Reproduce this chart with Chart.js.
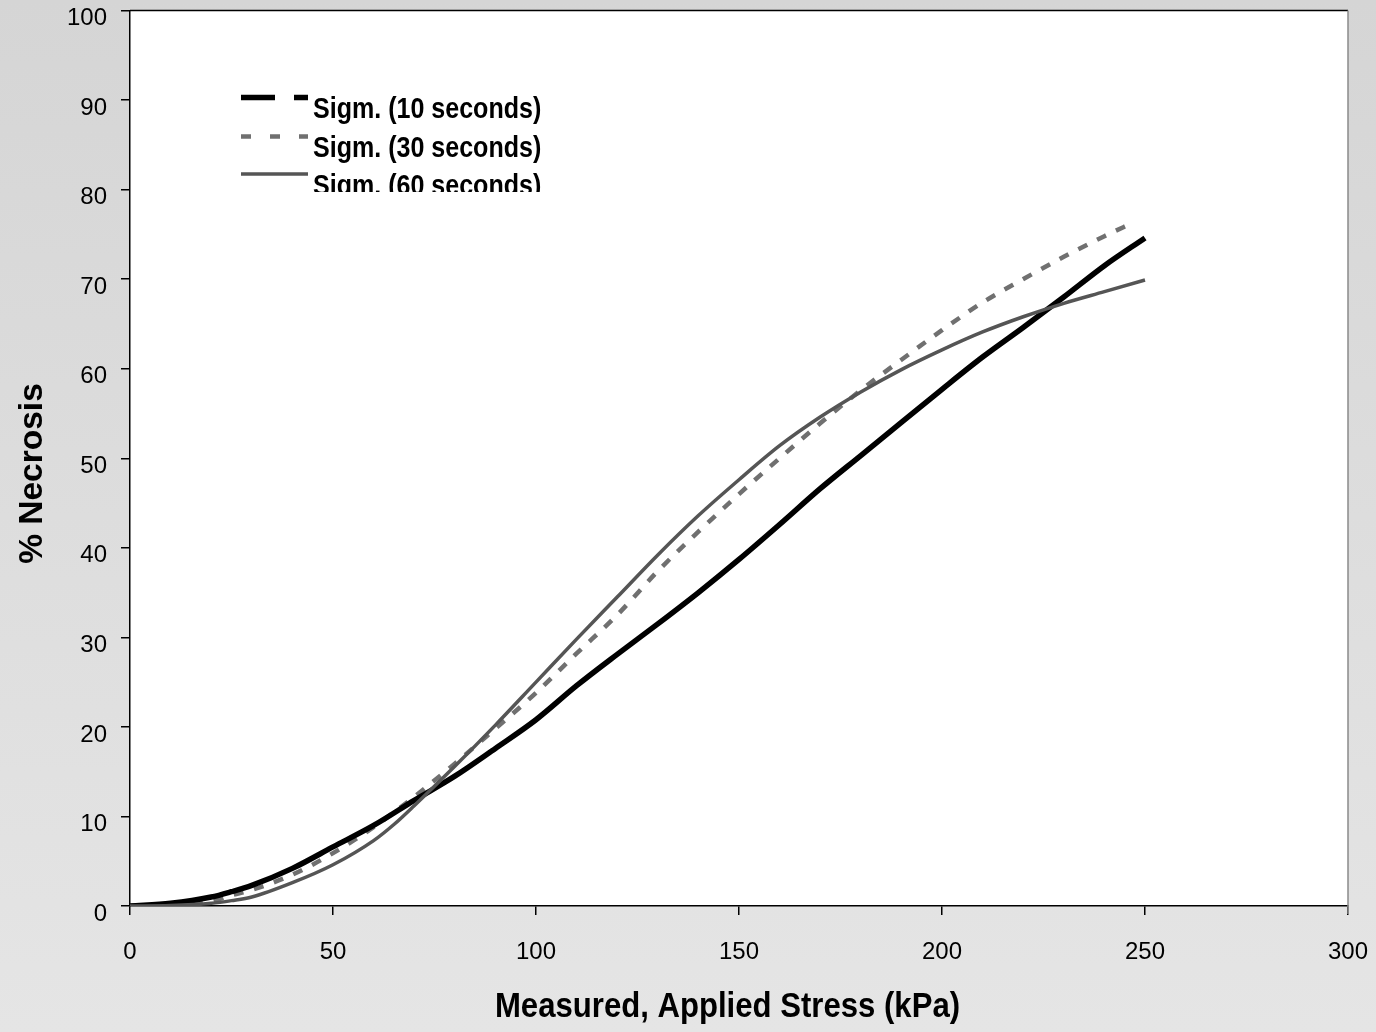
<!DOCTYPE html>
<html>
<head>
<meta charset="utf-8">
<script src="https://cdn.jsdelivr.net/npm/chart.js@4.4.0/dist/chart.umd.min.js"></script>
<style>
  html, body { margin: 0; padding: 0; }
  body { width: 1376px; height: 1032px; background: linear-gradient(#d5d5d5, #e5e5e5); overflow: hidden; }
  canvas { display: block; }
</style>
</head>
<body>
<canvas id="c" width="1376" height="1032"></canvas>
<script>
// ---- data ----
const xTicks = [0, 50, 100, 150, 200, 250, 300];
const yTicks = [0, 10, 20, 30, 40, 50, 60, 70, 80, 90, 100];

const stress10 = [0, 10, 20, 25, 30, 40, 50, 60, 70, 80, 90, 100, 110, 120, 130, 140, 150, 160, 170, 180, 190, 200, 210, 220, 230, 240, 250];
const necrosis10 = [0, 0.3, 1.0, 1.6, 2.3, 4.2, 6.6, 9.0, 11.8, 14.5, 17.6, 20.8, 24.6, 28.1, 31.5, 35.0, 38.7, 42.6, 46.6, 50.3, 54.0, 57.7, 61.3, 64.6, 68.0, 71.5, 74.6];

const stress30 = [0, 10, 20, 25, 30, 40, 50, 60, 70, 80, 90, 100, 110, 120, 130, 140, 150, 160, 170, 180, 190, 200, 210, 220, 230, 240, 247];
const necrosis30 = [0, 0.1, 0.5, 1.2, 1.8, 3.5, 5.9, 8.8, 12.2, 15.9, 19.8, 23.8, 28.2, 32.5, 37.4, 41.8, 46.0, 50.0, 53.9, 57.6, 61.0, 64.3, 67.4, 70.0, 72.5, 74.8, 76.3];

const stress60 = [0, 10, 20, 25, 30, 40, 50, 60, 65, 70, 80, 90, 100, 110, 120, 130, 140, 150, 160, 170, 180, 190, 200, 210, 220, 230, 240, 250];
const necrosis60 = [0, 0.05, 0.3, 0.6, 1.0, 2.6, 4.6, 7.3, 9.1, 11.2, 15.6, 20.2, 25.0, 29.8, 34.5, 39.2, 43.6, 47.6, 51.4, 54.6, 57.4, 59.9, 62.1, 64.1, 65.8, 67.3, 68.6, 69.9];

const seriesNames = ['Sigm. (10 seconds)', 'Sigm. (30 seconds)', 'Sigm. (60 seconds)'];
const xTitle = 'Measured, Applied Stress (kPa)';
const yTitle = '% Necrosis';

const toPts = (xs, ys) => xs.map((x, i) => ({ x: x, y: ys[i] }));

const FONT = '"Liberation Sans", Arial, Helvetica, sans-serif';

function narrowText(ctx, text, x, y, sx) {
  ctx.save();
  ctx.translate(x, y);
  ctx.scale(sx, 1);
  ctx.fillText(text, 0, 0);
  ctx.restore();
}

const frame = {
  id: 'frame',
  beforeDraw(chart) {
    const { ctx, chartArea: a } = chart;
    ctx.save();
    ctx.fillStyle = '#ffffff';
    ctx.fillRect(a.left, a.top, a.right - a.left, a.bottom - a.top);
    ctx.restore();
  },
  afterDraw(chart) {
    const { ctx, chartArea: a } = chart;
    ctx.save();
    // top border
    ctx.strokeStyle = '#000';
    ctx.lineWidth = 1.5;
    ctx.beginPath();
    ctx.moveTo(a.left, a.top);
    ctx.lineTo(a.right, a.top);
    ctx.stroke();
    // right border (gray)
    ctx.strokeStyle = '#8a8a8a';
    ctx.lineWidth = 1.5;
    ctx.beginPath();
    ctx.moveTo(a.right, a.top);
    ctx.lineTo(a.right, a.bottom + 8);
    ctx.stroke();

    // legend
    ctx.save();
    ctx.beginPath();
    ctx.rect(a.left + 2, a.top + 2, 600, 192 - a.top - 2);
    ctx.clip();
    const lx0 = 241, lx1 = 308;
    const rows = [
      { y: 97.5, color: '#000000', w: 5.5, dash: [34, 19], ty: 118 },
      { y: 136.5, color: '#707070', w: 4.5, dash: [10, 19], ty: 156.5 },
      { y: 174, color: '#555555', w: 3.5, dash: [], ty: 195 }
    ];
    rows.forEach((r, i) => {
      ctx.strokeStyle = r.color;
      ctx.lineWidth = r.w;
      ctx.setLineDash(r.dash);
      ctx.lineCap = 'butt';
      ctx.beginPath();
      ctx.moveTo(lx0, r.y);
      ctx.lineTo(lx1, r.y);
      ctx.stroke();
      ctx.setLineDash([]);
      ctx.fillStyle = '#000';
      ctx.font = 'bold 30px ' + FONT;
      ctx.textAlign = 'left';
      ctx.textBaseline = 'alphabetic';
      narrowText(ctx, seriesNames[i], 313, r.ty, 0.835);
    });
    ctx.restore();

    // axis titles
    ctx.fillStyle = '#000';
    ctx.font = 'bold 35px ' + FONT;
    ctx.textAlign = 'center';
    ctx.textBaseline = 'alphabetic';
    narrowText(ctx, xTitle, 727.5, 1017, 0.889);

    ctx.save();
    ctx.translate(42, 473.5);
    ctx.rotate(-Math.PI / 2);
    ctx.font = 'bold 33.5px ' + FONT;
    ctx.textAlign = 'center';
    ctx.textBaseline = 'alphabetic';
    ctx.fillText(yTitle, 0, 0);
    ctx.restore();

    ctx.restore();
  }
};

new Chart(document.getElementById('c'), {
  type: 'scatter',
  data: {
    datasets: [
      {
        label: seriesNames[0],
        data: toPts(stress10, necrosis10),
        showLine: true,
        borderColor: '#000000',
        borderWidth: 5.5,
        pointRadius: 0,
        cubicInterpolationMode: 'monotone',
        order: 1
      },
      {
        label: seriesNames[1],
        data: toPts(stress30, necrosis30),
        showLine: true,
        borderColor: '#707070',
        borderWidth: 4.5,
        borderDash: [10, 11],
        pointRadius: 0,
        cubicInterpolationMode: 'monotone',
        order: 2
      },
      {
        label: seriesNames[2],
        data: toPts(stress60, necrosis60),
        showLine: true,
        borderColor: '#555555',
        borderWidth: 3.5,
        pointRadius: 0,
        cubicInterpolationMode: 'monotone',
        order: 0
      }
    ]
  },
  options: {
    responsive: false,
    animation: false,
    layout: { padding: { left: 0, top: 10.5, right: 28, bottom: 0 } },
    plugins: {
      legend: { display: false },
      tooltip: { enabled: false }
    },
    scales: {
      x: {
        type: 'linear',
        min: 0, max: 300,
        afterBuildTicks: s => { s.ticks = xTicks.map(v => ({ value: v })); },
        afterFit: s => { s.height = 126; s.paddingLeft = 0; s.paddingRight = 0; },
        grid: { drawOnChartArea: false, drawTicks: true, tickLength: 9, color: '#000', lineWidth: 1.5 },
        border: { display: true, color: '#000', width: 1.5 },
        ticks: { color: '#000', font: { family: FONT, size: 24 }, padding: 23, maxRotation: 0 }
      },
      y: {
        type: 'linear',
        min: 0, max: 100,
        afterBuildTicks: s => { s.ticks = yTicks.map(v => ({ value: v })); },
        afterFit: s => { s.width = 130; s.paddingTop = 0; s.paddingBottom = 0; },
        grid: { drawOnChartArea: false, drawTicks: true, tickLength: 9, color: '#000', lineWidth: 1.5 },
        border: { display: true, color: '#000', width: 1.5 },
        ticks: { color: '#000', font: { family: FONT, size: 24 }, padding: 14, labelOffset: 8 }
      }
    }
  },
  plugins: [frame]
});
</script>
</body>
</html>
